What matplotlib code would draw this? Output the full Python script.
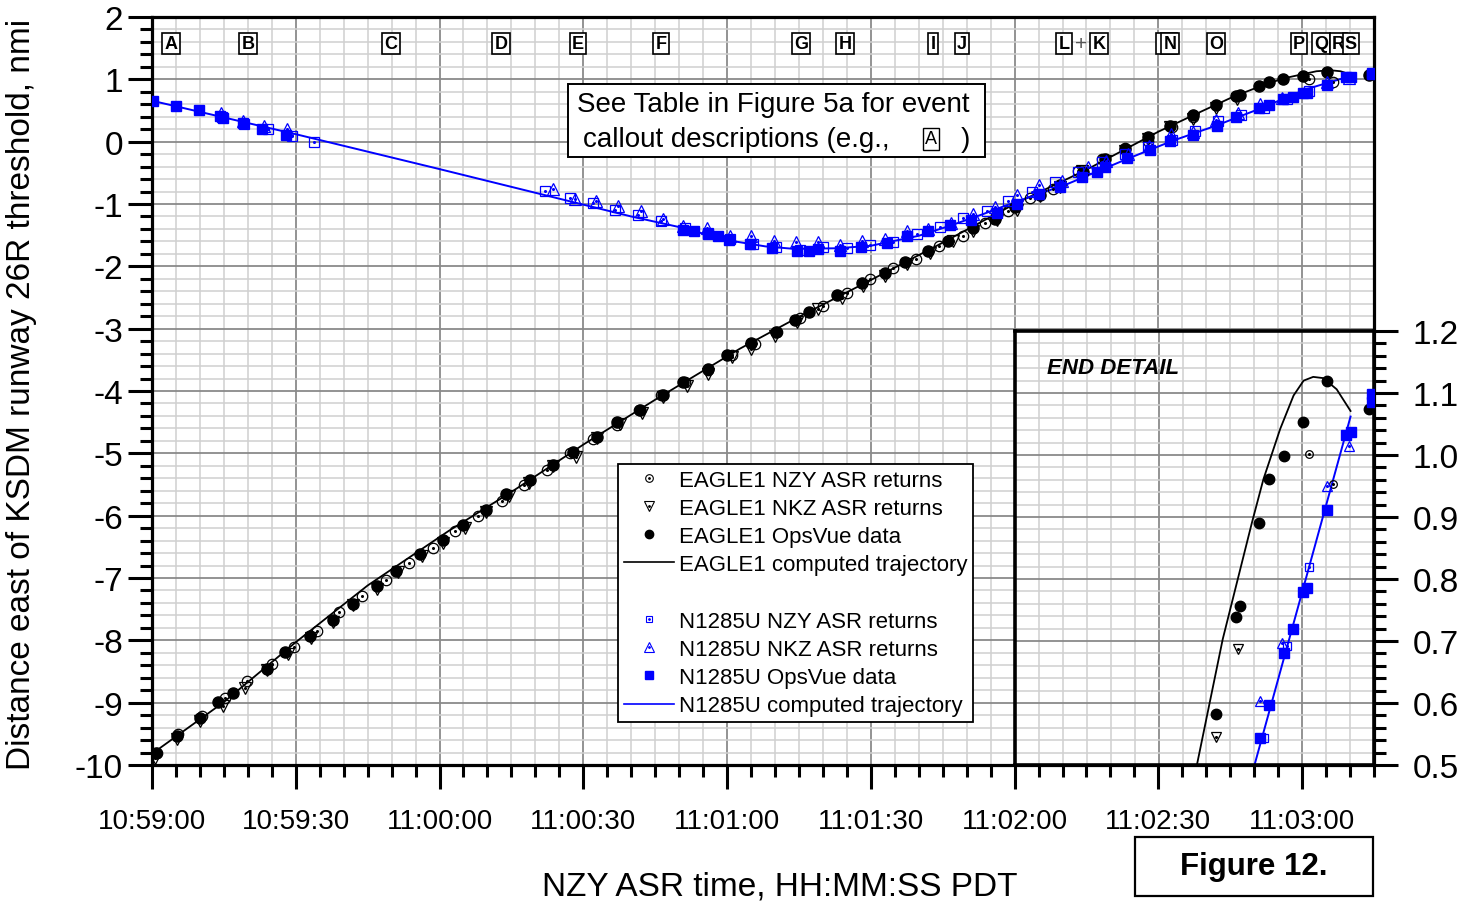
import matplotlib
matplotlib.use("Agg")
import matplotlib.pyplot as plt
from matplotlib.ticker import MultipleLocator, FuncFormatter
from matplotlib.lines import Line2D
from matplotlib.patches import Rectangle
from matplotlib.legend_handler import HandlerTuple

plt.rcParams['font.family'] = ['Liberation Sans', 'DejaVu Sans']

# ---------------- data (time in seconds after 10:59:00 PDT, distance in nmi) -------------
eagle_line_t = [0, 15, 30, 45, 62, 75, 90, 105, 122.7, 135, 150, 165, 180, 195, 210, 218,
                225.6, 233, 237, 240.3, 243, 246, 248, 249.6]
eagle_line_d = [-9.82, -8.99, -8.03, -7.12, -6.24, -5.62, -4.86, -4.14, -3.32, -2.81, -2.22,
                -1.62, -1.0, -0.45, 0.16, 0.45, 0.72, 0.94, 1.03, 1.085, 1.13, 1.145, 1.13, 1.09]

n1285u_line_t = [0, 30, 60, 90, 100, 110, 120, 128, 134, 143, 150, 160, 166.5, 173.5, 179,
                 191, 203.4, 213, 222, 231, 241, 250]
n1285u_line_d = [0.657, 0.12, -0.44, -1.01, -1.20, -1.37, -1.58, -1.68, -1.72, -1.71, -1.67,
                 -1.51, -1.35, -1.16, -1.0, -0.68, -0.28, 0.015, 0.256, 0.524, 0.845, 1.05]

# END DETAIL inset trajectories
inset_eagle_t = [217.4, 218.0, 223.4, 229.5, 231.9, 235.4, 238.2, 240.3, 242.3, 244.4, 247.2, 250.1]
inset_eagle_d = [0.475, 0.50, 0.703, 0.891, 0.961, 1.042, 1.096, 1.12, 1.126, 1.124, 1.106, 1.071]
inset_n1285u_t = [229.5, 250.1]
inset_n1285u_d = [0.485, 1.062]

eagle_ops_t = [0.8, 5.2, 10.0, 13.8, 16.8, 23.9, 27.8, 32.9, 37.8, 41.9, 46.9, 50.9, 55.9, 60.8,
               65.0, 69.8, 73.9, 78.9, 83.7, 87.8, 92.8, 97.0, 101.8, 106.7, 110.9, 116.1, 119.9,
               125.1, 130.2, 134.2, 137.0, 142.9, 148.1, 153.0, 157.1, 162.0, 166.2, 171.4, 176.0,
               180.1, 185.3, 189.5, 194.3, 198.9, 203.0, 207.9, 212.4, 217.2, 222.0, 226.1, 227.0,
               231.0, 233.1, 236.1, 240.1, 245.1, 254.0]
eagle_ops_d = [-9.80, -9.53, -9.25, -8.99, -8.85, -8.46, -8.19, -7.93, -7.67, -7.42, -7.13, -6.88,
               -6.62, -6.39, -6.15, -5.91, -5.66, -5.43, -5.19, -4.98, -4.74, -4.50, -4.30, -4.06,
               -3.85, -3.65, -3.42, -3.23, -3.05, -2.86, -2.73, -2.46, -2.27, -2.10, -1.93, -1.75,
               -1.59, -1.39, -1.24, -1.05, -0.86, -0.70, -0.49, -0.28, -0.11, 0.07, 0.256, 0.42,
               0.582, 0.739, 0.756, 0.891, 0.962, 0.998, 1.053, 1.119, 1.074]

eagle_nzy_t = [1.0, 5.5, 10.4, 15.2, 19.8, 25.0, 29.6, 34.4, 39.1, 43.9, 48.8, 53.7, 58.6, 63.2,
               68.1, 73.0, 77.6, 82.5, 87.2, 92.1, 97.0, 101.7, 106.3, 111.2, 116.1, 121.0, 125.8,
               130.4, 135.2, 140.1, 145.0, 149.8, 154.7, 159.4, 164.3, 169.2, 173.8, 178.7, 183.2,
               188.1, 193.3, 198.2, 203.0, 207.9, 212.8, 217.3, 241.4, 246.4]
eagle_nzy_d = [-9.80, -9.50, -9.21, -8.93, -8.66, -8.38, -8.10, -7.85, -7.54, -7.29, -7.03, -6.76,
               -6.52, -6.25, -6.00, -5.76, -5.51, -5.26, -5.00, -4.77, -4.55, -4.31, -4.07, -3.86,
               -3.66, -3.43, -3.25, -3.05, -2.83, -2.63, -2.43, -2.21, -2.03, -1.88, -1.68, -1.51,
               -1.31, -1.12, -0.91, -0.76, -0.47, -0.28, -0.10, 0.015, 0.23, 0.39, 1.001, 0.954]

eagle_nkz_t = [0.6, 5.2, 10.0, 14.9, 19.4, 24.0, 28.4, 33.2, 37.8, 41.9, 46.9, 51.4, 56.3, 60.8,
               65.3, 69.8, 74.4, 78.7, 83.7, 88.5, 92.8, 97.6, 102.2, 106.7, 111.6, 116.0, 121.0,
               125.1, 130.0, 134.5, 139.0, 143.9, 148.3, 153.0, 157.5, 162.3, 167.1, 171.4, 176.3,
               180.4, 185.2, 189.5, 194.0, 198.9, 203.0, 207.9, 212.4, 217.3, 222.0, 226.5]
eagle_nkz_d = [-9.88, -9.58, -9.29, -9.06, -8.76, -8.48, -8.22, -7.96, -7.70, -7.44, -7.18, -6.91,
               -6.65, -6.44, -6.19, -5.94, -5.68, -5.48, -5.21, -5.06, -4.76, -4.53, -4.35, -4.10,
               -3.92, -3.73, -3.46, -3.32, -3.11, -2.90, -2.68, -2.50, -2.32, -2.15, -1.96, -1.79,
               -1.59, -1.43, -1.25, -1.09, -0.87, -0.73, -0.47, -0.31, -0.145, 0.04, 0.23, 0.36,
               0.545, 0.687]

n_ops_t = [0.3, 5.0, 9.8, 14.2, 14.9, 18.9, 22.9, 28.0, 110.9, 113.0, 116.1, 118.2, 120.5, 124.8,
           129.3, 134.5, 137.0, 139.0, 143.6, 147.9, 153.3, 157.5, 162.0, 166.5, 171.0, 176.3,
           180.4, 185.0, 189.5, 194.0, 197.1, 198.9, 203.4, 208.3, 212.4, 217.2, 222.2, 226.2,
           231.1, 233.1, 236.1, 238.1, 240.1, 241.1, 245.1, 249.2, 250.1, 254.5, 254.5]
n_ops_d = [0.657, 0.567, 0.508, 0.407, 0.38, 0.30, 0.203, 0.107, -1.41, -1.43, -1.48, -1.52, -1.57,
           -1.64, -1.71, -1.75, -1.75, -1.72, -1.75, -1.685, -1.63, -1.52, -1.43, -1.34, -1.25,
           -1.14, -1.00, -0.84, -0.73, -0.57, -0.49, -0.41, -0.27, -0.13, 0.015, 0.107, 0.256,
           0.39, 0.543, 0.596, 0.681, 0.719, 0.779, 0.785, 0.911, 1.033, 1.037, 1.085, 1.098]

n_nzy_t = [14.6, 19.1, 24.3, 29.2, 33.9, 82.0, 87.2, 92.1, 96.6, 101.5, 106.3, 111.2, 116.0, 120.6,
           125.5, 130.3, 135.2, 140.1, 145.0, 149.8, 154.7, 159.6, 164.4, 169.3, 174.2, 178.7,
           183.6, 188.4, 193.3, 198.2, 203.0, 207.9, 212.8, 217.7, 222.5, 227.3, 232.0, 236.8, 241.5]
n_nzy_d = [0.39, 0.283, 0.203, 0.096, -0.01, -0.787, -0.91, -0.98, -1.09, -1.18, -1.27, -1.38,
           -1.46, -1.56, -1.64, -1.69, -1.73, -1.69, -1.71, -1.66, -1.61, -1.48, -1.37, -1.22,
           -1.11, -0.95, -0.81, -0.65, -0.49, -0.33, -0.20, -0.09, 0.03, 0.176, 0.33, 0.42,
           0.543, 0.692, 0.820]

n_nkz_t = [14.3, 18.9, 23.4, 28.1, 83.6, 88.3, 92.7, 97.3, 102.0, 106.7, 110.9, 115.8, 120.6, 125.1,
           129.7, 134.4, 138.9, 143.6, 148.2, 153.0, 157.5, 162.0, 166.7, 171.4, 176.0, 180.4,
           185.0, 189.8, 195.4, 199.1, 203.6, 208.1, 212.6, 217.2, 222.0, 226.6, 231.2, 235.7,
           245.1, 249.8]
n_nkz_d = [0.46, 0.336, 0.256, 0.203, -0.76, -0.92, -0.95, -1.03, -1.11, -1.24, -1.35, -1.39, -1.51,
           -1.52, -1.60, -1.61, -1.61, -1.66, -1.59, -1.56, -1.44, -1.40, -1.30, -1.16, -1.05,
           -0.86, -0.70, -0.63, -0.41, -0.31, -0.19, -0.075, 0.12, 0.16, 0.34, 0.46, 0.603, 0.697,
           0.950, 1.015]

callout_letters = ['A', 'B', 'C', 'D', 'E', 'F', 'G', 'H', 'I', 'J', 'L', 'K', 'N', 'O',
                   'P', 'Q', 'R', 'S']
callout_t = [3.96, 20.0, 49.9, 72.8, 88.9, 106.2, 135.4, 144.6, 163.0, 169.0, 190.3, 197.6,
             212.4, 222.0, 239.4, 244.0, 247.6, 250.2]
hidden_box_t = 209.6   # left edge of the callout box hidden behind "N"

legend_labels = ['EAGLE1 NZY ASR returns', 'EAGLE1 NKZ ASR returns', 'EAGLE1 OpsVue data',
                 'EAGLE1 computed trajectory', ' ', 'N1285U NZY ASR returns',
                 'N1285U NKZ ASR returns', 'N1285U OpsVue data', 'N1285U computed trajectory']

# ---------------- figure ----------------
W, H = 1481, 903
fig = plt.figure(figsize=(W / 100, H / 100), dpi=100)
BLUE = '#0000ff'


def fx(px):
    return px / W


def fy(py):
    return 1 - py / H


def tfmt(v, pos=None):
    s = int(round(v)) + 10 * 3600 + 59 * 60
    return '%d:%02d:%02d' % (s // 3600, (s % 3600) // 60, s % 60)


ax = fig.add_axes([fx(152), fy(766), (1374 - 152) / W, (766 - 18) / H])
ax.set_xlim(0, 255)
ax.set_ylim(-10, 2)
ax.xaxis.set_major_locator(MultipleLocator(30))
ax.xaxis.set_minor_locator(MultipleLocator(5))
ax.yaxis.set_major_locator(MultipleLocator(1))
ax.yaxis.set_minor_locator(MultipleLocator(0.2))
ax.xaxis.set_major_formatter(FuncFormatter(tfmt))
ax.yaxis.set_major_formatter(FuncFormatter(lambda v, p: '%d' % round(v)))
ax.set_axisbelow(True)
ax.grid(which='minor', color='#d0d0d0', lw=1.1)
ax.grid(which='major', color='#8a8a8a', lw=1.3)
ax.tick_params(which='both', direction='out', width=2.2, color='black')
ax.tick_params(which='major', length=17)
ax.tick_params(which='minor', length=8.5)
ax.tick_params(axis='x', which='major', labelsize=20, pad=14)
ax.tick_params(axis='y', which='major', labelsize=24, pad=4)
for sp in ax.spines.values():
    sp.set_linewidth(2.3)


def draw_series(a, small=False):
    a.plot(eagle_nzy_t, eagle_nzy_d, ls='none', marker='o', mfc='none', mec='black',
           ms=5.5 if small else 7.5, mew=0.9, zorder=3)
    a.plot(eagle_nzy_t, eagle_nzy_d, ls='none', marker='o', color='black', ms=1.2, zorder=3)
    a.plot(eagle_nkz_t, eagle_nkz_d, ls='none', marker='v', mfc='none', mec='black',
           ms=7 if small else 8.5, mew=0.9, zorder=3)
    a.plot(eagle_nkz_t, eagle_nkz_d, ls='none', marker='o', color='black', ms=1.2, zorder=3)
    a.plot(eagle_ops_t, eagle_ops_d, ls='none', marker='o', color='black',
           ms=7.5 if small else 8, zorder=3)
    a.plot(n_nzy_t, n_nzy_d, ls='none', marker='s', mfc='none', mec=BLUE,
           ms=5.5 if small else 7, mew=0.9, zorder=3)
    a.plot(n_nzy_t, n_nzy_d, ls='none', marker='o', color=BLUE, ms=1.2, zorder=3)
    a.plot(n_nkz_t, n_nkz_d, ls='none', marker='^', mfc='none', mec=BLUE,
           ms=7 if small else 8.5, mew=0.9, zorder=3)
    a.plot(n_nkz_t, n_nkz_d, ls='none', marker='o', color=BLUE, ms=1.2, zorder=3)
    a.plot(n_ops_t, n_ops_d, ls='none', marker='s', color=BLUE, ms=6.5, zorder=3)


ax.plot(eagle_line_t, eagle_line_d, color='black', lw=1.3, zorder=2)
ax.plot(n1285u_line_t, n1285u_line_d, color=BLUE, lw=1.4, zorder=2)
draw_series(ax)

# event callouts
ax.add_patch(Rectangle((hidden_box_t, 1.41), 4.2, 0.33, fc='white', ec='black', lw=1.2,
                       zorder=5.5))
for lab, t in zip(callout_letters, callout_t):
    ax.text(t, 1.57, lab, ha='center', va='center', fontsize=13, fontweight='bold', zorder=6,
            bbox=dict(boxstyle='square,pad=0.12', fc='white', ec='black', lw=1.2))
ax.text(193.9, 1.57, '+', ha='center', va='center', fontsize=15, color='#555555', zorder=5)

# legend
def hollow(marker, color, ms):
    return (Line2D([], [], ls='none', marker=marker, mfc='none', mec=color, ms=ms, mew=0.8),
            Line2D([], [], ls='none', marker='o', color=color, ms=1.0))


handles = [hollow('o', 'black', 5.5), hollow('v', 'black', 6.5),
           Line2D([], [], ls='none', marker='o', color='black', ms=6),
           Line2D([], [], color='black', lw=1.2),
           Line2D([], [], ls='none'),
           hollow('s', BLUE, 5), hollow('^', BLUE, 6.5),
           Line2D([], [], ls='none', marker='s', color=BLUE, ms=5.2),
           Line2D([], [], color=BLUE, lw=1.2)]
leg = ax.legend(handles, legend_labels, loc='upper left',
                bbox_to_anchor=((618 - 152) / 1222, (766 - 465) / 748),
                borderaxespad=0, fontsize=16, handlelength=2.25, handletextpad=0.25,
                labelspacing=0.325, borderpad=0.25, fancybox=False, framealpha=1,
                edgecolor='black', handler_map={tuple: HandlerTuple(ndivide=1, pad=0)})
leg.get_frame().set_linewidth(1.3)
leg.set_zorder(7)

# inset END DETAIL
ax2 = fig.add_axes([fx(1015), fy(766), (1374 - 1015) / W, (766 - 332) / H])
ax2.set_xlim(180, 255)
ax2.set_ylim(0.5, 1.2)
ax2.xaxis.set_major_locator(MultipleLocator(30))
ax2.xaxis.set_minor_locator(MultipleLocator(5))
ax2.yaxis.set_major_locator(MultipleLocator(0.1))
ax2.yaxis.set_minor_locator(MultipleLocator(0.02))
ax2.yaxis.set_major_formatter(FuncFormatter(lambda v, p: '%.1f' % v))
ax2.set_axisbelow(True)
ax2.grid(which='minor', color='#d0d0d0', lw=1.1)
ax2.grid(which='major', color='#8a8a8a', lw=1.3)
ax2.yaxis.tick_right()
ax2.tick_params(axis='x', which='both', length=0, labelbottom=False)
ax2.tick_params(axis='y', which='both', direction='out', width=2.2, labelsize=24)
ax2.tick_params(axis='y', which='major', length=17, pad=11)
ax2.tick_params(axis='y', which='minor', length=8.5)
for sp in ax2.spines.values():
    sp.set_linewidth(2.6)
ax2.plot(inset_eagle_t, inset_eagle_d, color='black', lw=1.3, zorder=2)
ax2.plot(inset_n1285u_t, inset_n1285u_d, color=BLUE, lw=1.4, zorder=2)
draw_series(ax2, small=True)
ax2.text(0.09, 0.915, 'END DETAIL', transform=ax2.transAxes, fontsize=16, fontweight='bold',
         fontstyle='italic', ha='left', va='center')

# note box
fig.add_artist(Rectangle((fx(568), fy(158)), (985 - 568) / W, (158 - 85) / H,
                         transform=fig.transFigure, fc='white', ec='black', lw=1.4, zorder=8))
fig.text(fx(773), fy(105), 'See Table in Figure 5a for event', fontsize=20, ha='center',
         va='center', zorder=9)
fig.text(fx(583), fy(140), 'callout descriptions (e.g.,', fontsize=20, ha='left',
         va='center', zorder=9)
fig.text(fx(970), fy(140), ')', fontsize=20, ha='right', va='center', zorder=9)
fig.text(fx(931), fy(140), 'A', fontsize=13, ha='center', va='center', zorder=9,
         bbox=dict(boxstyle='square,pad=0.12', fc='white', ec='black', lw=1.0))

# axis titles
fig.text(fx(22), fy(394), 'Distance east of KSDM runway 26R threshold, nmi', rotation=90,
         fontsize=24, ha='center', va='center')
fig.text(fx(780), fy(887), 'NZY ASR time, HH:MM:SS PDT', fontsize=24, ha='center', va='center')

# figure number
fig.add_artist(Rectangle((fx(1135), fy(897)), (1373 - 1135) / W, (897 - 838) / H,
                         transform=fig.transFigure, fc='white', ec='black', lw=1.6, zorder=8))
fig.text(fx(1254), fy(867), 'Figure 12.', fontsize=22.5, fontweight='bold', ha='center',
         va='center', zorder=9)

fig.savefig('out.png', dpi=100)
